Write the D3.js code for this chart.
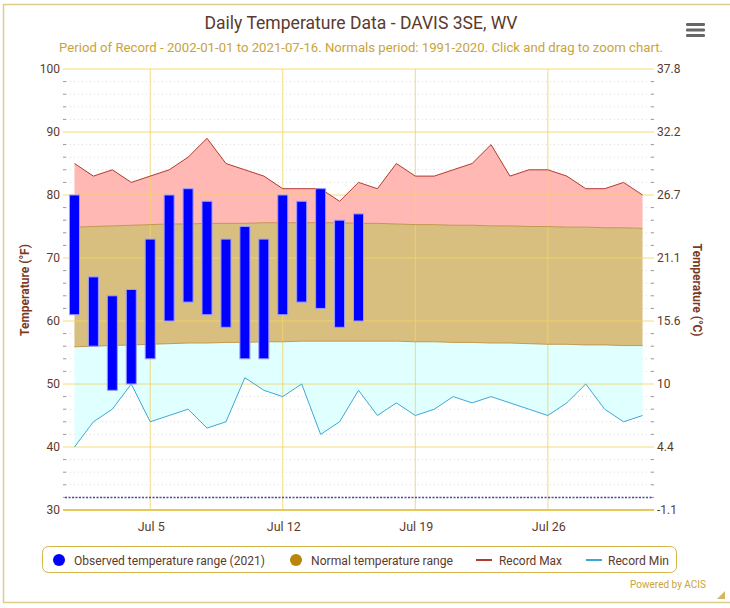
<!DOCTYPE html>
<html><head><meta charset="utf-8">
<script src="https://cdn.jsdelivr.net/npm/d3@7"></script>
<style>
html,body{margin:0;padding:0;background:#fff;}
svg text{font-family:Roboto,"Noto Sans",sans-serif;}
</style></head>
<body><svg id="c" width="730" height="608"></svg>
<script>
const days = d3.range(1, 32); // Jul 1 .. Jul 31
const recordMax = [85,83,84,82,83,84,86,89,85,84,83,81,81,81,79,82,81,85,83,83,84,85,88,83,84,84,83,81,81,82,80];
const recordMin = [40,44,46,50,44,45,46,43,44,51,49,48,50,42,44,49,45,47,45,46,48,47,48,47,46,45,47,50,46,44,45];
const normalHigh = [74.9,75.0,75.1,75.2,75.3,75.4,75.4,75.5,75.5,75.5,75.6,75.6,75.6,75.6,75.6,75.5,75.5,75.4,75.3,75.3,75.2,75.2,75.1,75.1,75.0,75.0,74.9,74.9,74.8,74.8,74.7];
const normalLow = [55.9,56.0,56.1,56.2,56.3,56.4,56.5,56.5,56.6,56.6,56.7,56.7,56.8,56.8,56.8,56.8,56.8,56.8,56.7,56.7,56.6,56.6,56.5,56.5,56.4,56.3,56.3,56.2,56.2,56.1,56.1];
const obsHigh = [80,67,64,65,73,80,81,79,73,75,73,80,79,81,76,77];
const obsLow  = [61,56,49,50,54,60,63,61,59,54,54,61,63,62,59,60];
const yTicksF = [30,40,50,60,70,80,90,100];
const yTicksC = ["-1.1","4.4","10","15.6","21.1","26.7","32.2","37.8"];
const xTickDays = [5,12,19,26];
const xTickLabels = ["Jul 5","Jul 12","Jul 19","Jul 26"];
const freezing = 32;

const svg = d3.select("#c");
const x = d3.scaleLinear().domain([0.5, 31.5]).range([65, 652]);
const y = d3.scaleLinear().domain([30, 100]).range([510, 69]);
const brown = "#5b3b2c", gold = "#f2d466";

// outer frame
svg.append("rect").attr("x",3.5).attr("y",4.5).attr("width",740).attr("height",598)
  .attr("fill","none").attr("stroke","#ddcc8e").attr("stroke-width",1.5);

// title
svg.append("text").attr("x",361).attr("y",29).attr("text-anchor","middle")
  .attr("font-size",18).attr("fill","#5b3a2e").attr("textLength",313).attr("lengthAdjust","spacingAndGlyphs")
  .text("Daily Temperature Data - DAVIS 3SE, WV");
svg.append("text").attr("x",361).attr("y",52).attr("text-anchor","middle")
  .attr("font-size",12.5).attr("fill","#c9a43a").attr("textLength",604).attr("lengthAdjust","spacingAndGlyphs")
  .text("Period of Record - 2002-01-01 to 2021-07-16. Normals period: 1991-2020. Click and drag to zoom chart.");

// menu icon
[0,1,2].forEach(i=>svg.append("rect").attr("x",686).attr("y",23+i*5.5).attr("width",19).attr("height",3)
  .attr("rx",1.2).attr("fill","#666"));

// minor gridlines
const minor = d3.range(32, 100, 2).filter(v => v % 10 !== 0);
svg.append("g").selectAll("line").data(minor).join("line")
  .attr("x1",66).attr("x2",651).attr("y1",d=>y(d)).attr("y2",d=>y(d))
  .attr("stroke","#dcdcdc").attr("stroke-width",1).attr("stroke-dasharray","1,3");
// minor ticks
svg.append("g").selectAll("line").data(minor).join("line")
  .attr("x1",63).attr("x2",66).attr("y1",d=>y(d)).attr("y2",d=>y(d)).attr("stroke","#999");
svg.append("g").selectAll("line").data(minor).join("line")
  .attr("x1",651).attr("x2",654).attr("y1",d=>y(d)).attr("y2",d=>y(d)).attr("stroke","#999");

// areas
const line = (acc) => d3.line().x((d,i)=>x(days[i])).y((d,i)=>y(acc(i)));
svg.append("path").datum(days)
  .attr("d", d3.area().x((d,i)=>x(d)).y0((d,i)=>y(normalHigh[i])).y1((d,i)=>y(recordMax[i])))
  .attr("fill","#ffb8b3");
svg.append("path").datum(days)
  .attr("d", d3.area().x((d,i)=>x(d)).y0((d,i)=>y(recordMin[i])).y1((d,i)=>y(normalLow[i])))
  .attr("fill","#e0ffff");
svg.append("path").datum(days)
  .attr("d", d3.area().x((d,i)=>x(d)).y0((d,i)=>y(normalLow[i])).y1((d,i)=>y(normalHigh[i])))
  .attr("fill","#d9bf7f");

// major gridlines (horizontal)
svg.append("g").selectAll("line").data(yTicksF.filter(v=>v!==30)).join("line")
  .attr("x1",63).attr("x2",654).attr("y1",d=>y(d)).attr("y2",d=>y(d))
  .attr("stroke",gold).attr("stroke-opacity",0.85).attr("stroke-width",1);
// vertical gridlines
svg.append("g").selectAll("line").data(xTickDays).join("line")
  .attr("x1",d=>x(d)).attr("x2",d=>x(d)).attr("y1",69).attr("y2",510)
  .attr("stroke",gold).attr("stroke-opacity",0.85).attr("stroke-width",1);

// normal edges
svg.append("path").datum(days).attr("d", line(i=>normalHigh[i])).attr("fill","none").attr("stroke","#b88a3a").attr("stroke-width",0.8);
svg.append("path").datum(days).attr("d", line(i=>normalLow[i])).attr("fill","none").attr("stroke","#b88a3a").attr("stroke-width",0.8);

// record lines
svg.append("path").datum(days).attr("d", line(i=>recordMax[i])).attr("fill","none").attr("stroke","#b23b30").attr("stroke-width",1);
svg.append("path").datum(days).attr("d", line(i=>recordMin[i])).attr("fill","none").attr("stroke","#3fa7d6").attr("stroke-width",1);

// observed bars
svg.append("g").selectAll("rect").data(obsHigh).join("rect")
  .attr("x",(d,i)=>x(days[i])-5).attr("width",10)
  .attr("y",(d,i)=>y(d)).attr("height",(d,i)=>y(obsLow[i])-y(d))
  .attr("fill","#0000ff").attr("stroke","#9c9cff").attr("stroke-width",1);

// freezing line
svg.append("line").attr("x1",65).attr("x2",652).attr("y1",y(freezing)).attr("y2",y(freezing))
  .attr("stroke","#4a4aa0").attr("stroke-width",1.5).attr("stroke-dasharray","2,1.5");

// x axis line
svg.append("line").attr("x1",63).attr("x2",654).attr("y1",y(30)).attr("y2",y(30))
  .attr("stroke","#e6c95a").attr("stroke-width",2);

// y labels
svg.append("g").selectAll("text").data(yTicksF).join("text")
  .attr("x",60).attr("y",d=>y(d)+4).attr("text-anchor","end").attr("font-size",12).attr("fill",brown).text(d=>d);
svg.append("g").selectAll("text").data(yTicksF).join("text")
  .attr("x",657).attr("y",d=>y(d)+4).attr("font-size",12).attr("fill",brown).text((d,i)=>yTicksC[i]);
// x labels
svg.append("g").selectAll("text").data(xTickDays).join("text")
  .attr("x",d=>x(d)+1).attr("y",531).attr("text-anchor","middle").attr("font-size",12.5).attr("fill",brown)
  .text((d,i)=>xTickLabels[i]);

// axis titles
svg.append("text").attr("transform","translate(29,290) rotate(-90)").attr("text-anchor","middle")
  .attr("font-size",12).attr("font-weight","bold").attr("fill","#7b3a1f").text("Temperature (°F)");
svg.append("text").attr("transform","translate(693,290) rotate(90)").attr("text-anchor","middle")
  .attr("font-size",12).attr("font-weight","bold").attr("fill","#7b3a1f").text("Temperature (°C)");

// legend
svg.append("rect").attr("x",42.5).attr("y",546.5).attr("width",634).attr("height",26).attr("rx",6)
  .attr("fill","#fff").attr("stroke","#d6b54a").attr("stroke-width",1);
const lg = svg.append("g").attr("font-size",12.5).attr("fill",brown);
lg.append("circle").attr("cx",59).attr("cy",560).attr("r",6).attr("fill","#0000ff");
lg.append("text").attr("x",74).attr("y",564.5).attr("textLength",191).attr("lengthAdjust","spacingAndGlyphs").text("Observed temperature range (2021)");
lg.append("circle").attr("cx",296).attr("cy",560).attr("r",6).attr("fill","#b8860b");
lg.append("text").attr("x",311).attr("y",564.5).attr("textLength",142).attr("lengthAdjust","spacingAndGlyphs").text("Normal temperature range");
lg.append("line").attr("x1",476).attr("x2",492).attr("y1",560).attr("y2",560).attr("stroke","#b23b30").attr("stroke-width",2);
lg.append("text").attr("x",499).attr("y",564.5).attr("textLength",63).attr("lengthAdjust","spacingAndGlyphs").text("Record Max");
lg.append("line").attr("x1",586).attr("x2",602).attr("y1",560).attr("y2",560).attr("stroke","#3fa7d6").attr("stroke-width",2);
lg.append("text").attr("x",608).attr("y",564.5).attr("textLength",61).attr("lengthAdjust","spacingAndGlyphs").text("Record Min");

// credit
svg.append("text").attr("x",706).attr("y",588).attr("text-anchor","end").attr("font-size",10)
  .attr("fill","#c9a43a").text("Powered by ACIS");
// resize grip
svg.append("path").attr("d","M717,599 L725,591 L725,599 Z").attr("fill","#c9a43a").attr("opacity",0.8);
</script></body></html>
